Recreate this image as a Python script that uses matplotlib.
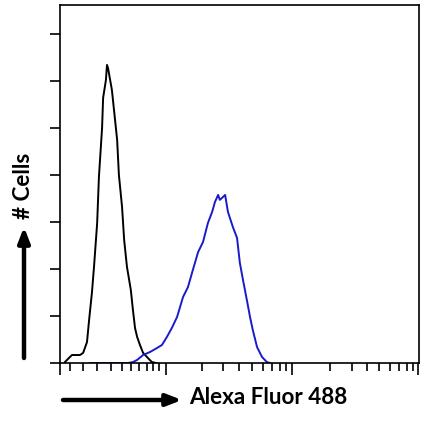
import matplotlib
matplotlib.use("Agg")
import matplotlib.pyplot as plt

# x in display channels (0-1024, biexponential-like display), y in cell counts
black_x = [14, 34, 57, 66, 77, 83, 91, 97, 106, 111, 120, 123, 131, 134, 137,
           143, 148, 154, 163, 168, 177, 183, 191, 202, 208, 214, 220, 228, 237,
           251, 262, 274]
black_y = [0.4, 3.4, 3.4, 4.3, 8.9, 18.3, 29.8, 40.9, 59.6, 79.1, 100.0, 112.8,
           120.4, 126.8, 125.5, 120.4, 116.2, 107.7, 94.9, 80.0, 66.4, 52.3,
           40.9, 31.1, 22.6, 14.9, 11.1, 7.7, 4.3, 2.1, 0.4, 0]

blue_x = [86, 194, 208, 220, 237, 257, 277, 291, 305, 319, 334, 351, 365, 379,
          394, 408, 422, 434, 442, 451, 456, 462, 471, 479, 493, 505, 513, 522,
          533, 542, 550, 562, 576, 590, 599]
blue_y = [0, 0, 0.4, 1.3, 3.4, 4.7, 6.4, 7.7, 11.1, 14.9, 19.6, 28.1, 32.3, 39.6,
          47.2, 51.5, 59.6, 64.3, 68.5, 71.5, 69.4, 70.2, 71.5, 64.3, 57.9, 53.2,
          42.6, 35.3, 26.8, 19.6, 14.0, 6.8, 2.6, 0.4, 0]

x_major = [0, 302, 662, 1021]
x_minor = [28, 66, 105, 145, 177, 202, 225, 248, 265, 282,
           405, 465, 510, 548, 579, 605, 627, 645,
           770, 833, 876, 910, 941, 967, 990, 1007]
y_ticks = [0, 20, 40, 60, 80, 100, 120, 140]

W, H = 423, 429
fig = plt.figure(figsize=(W / 100, H / 100), dpi=100)
ax = fig.add_axes([60 / W, 1 - 363 / H, 359 / W, 358 / H])

ax.plot(black_x, black_y, color="black", lw=1.4)
ax.plot(blue_x, blue_y, color="#1a1acc", lw=1.4)

ax.set_xlim(0, 1024)
ax.set_ylim(0, 152.3)
ax.set_xticks(x_major)
ax.set_xticks(x_minor, minor=True)
ax.set_yticks(y_ticks)
ax.set_xticklabels([])
ax.set_yticklabels([])
ax.tick_params(axis="x", which="major", direction="out", length=8.5, width=1.2)
ax.tick_params(axis="x", which="minor", direction="out", length=6, width=1.2)
ax.tick_params(axis="y", direction="out", length=7.2, width=1.2)
for s in ax.spines.values():
    s.set_linewidth(1.2)

font = ["Lato", "DejaVu Sans"]
fig.text(189 / W, 1 - 398 / H, "Alexa Fluor 488", ha="left", va="center",
         fontsize=16.2, fontweight="bold", family=font)
fig.text(24 / W, 1 - 186 / H, "# Cells", ha="center", va="center",
         rotation=90, fontsize=16.2, fontweight="bold", family=font)

arrow = dict(arrowstyle="-|>,head_length=0.9,head_width=0.35", color="black",
             lw=3.2, shrinkA=0, shrinkB=0)
ax.annotate("", xy=(182, H - 400), xytext=(63, H - 400),
            xycoords="figure pixels", textcoords="figure pixels",
            arrowprops=arrow)
ax.annotate("", xy=(24, H - 227), xytext=(24, H - 358),
            xycoords="figure pixels", textcoords="figure pixels",
            arrowprops=arrow)

fig.savefig("out.png", dpi=100)
